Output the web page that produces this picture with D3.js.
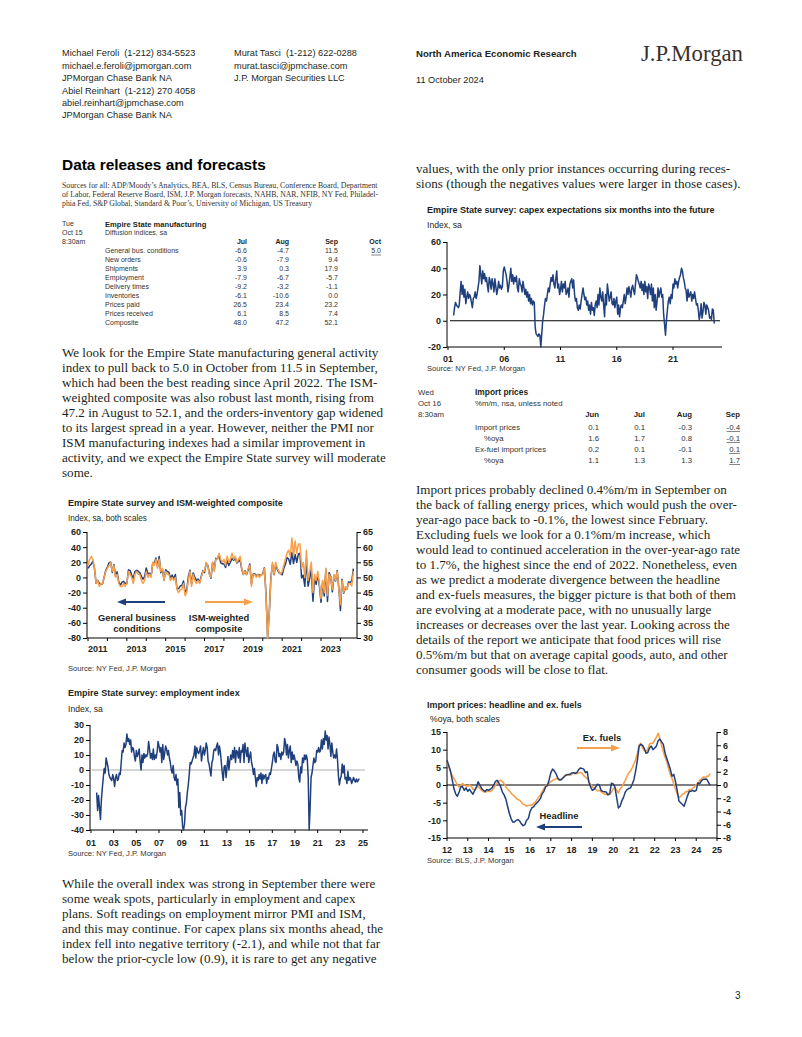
<!DOCTYPE html>
<html><head><meta charset="utf-8">
<script src="https://cdn.jsdelivr.net/npm/d3@7"></script>
<style>body{margin:0;background:#fff}svg{display:block}</style>
</head><body>
<svg id="page" width="802" height="1037"></svg>
<script>
// ---------------- DATA ----------------
const empireTableCols = ["Jul", "Aug", "Sep", "Oct"];
const empireTableRows = ["General bus. conditions","New orders","Shipments","Employment","Delivery times","Inventories","Prices paid","Prices received","Composite"];
const empireTableVals = [
  ["-6.6","-4.7","11.5","5.0"],["-0.6","-7.9","9.4",""],["3.9","0.3","17.9",""],["-7.9","-6.7","-5.7",""],
  ["-9.2","-3.2","-1.1",""],["-6.1","-10.6","0.0",""],["26.5","23.4","23.2",""],["6.1","8.5","7.4",""],["48.0","47.2","52.1",""]];
const importTableCols = ["Jun","Jul","Aug","Sep"];
const importTableRows = ["Import prices","%oya","Ex-fuel import prices","%oya"];
const importTableVals = [["0.1","0.1","-0.3","-0.4"],["1.6","1.7","0.8","-0.1"],["0.2","0.1","-0.1","0.1"],["1.1","1.3","1.3","1.7"]];

// Chart 1: monthly from Jan 2011
const c1Start = 2011;
const generalBusiness = [
 11.9,15.4,17.5,21.7,11.9,-7.8,-3.8,-7.7,-8.8,-8.5,0.6,9.5,
 13.5,19.5,20.2,6.6,17.1,2.3,7.4,-5.9,-10.4,-6.2,-5.2,-8.1,
 -7.8,10.0,9.2,3.1,-1.4,7.8,9.5,8.2,6.3,1.5,-2.2,1.0,
 12.5,4.5,5.6,1.3,19.0,19.3,25.6,14.7,27.5,6.2,10.2,-3.6,
 10.0,7.8,6.9,-1.2,3.1,-2.0,3.9,-14.9,-14.7,-11.4,-10.7,-4.6,
 -19.4,-16.6,0.6,9.6,-9.0,6.0,0.6,-4.2,-2.0,-6.8,1.5,9.0,
 6.5,18.7,16.4,5.2,-1.0,19.8,9.8,25.2,24.4,30.2,19.4,18.0,
 17.7,13.1,22.5,15.8,20.1,25.0,22.6,25.6,19.0,21.1,23.3,10.9,
 3.9,8.8,3.7,10.1,17.8,-8.6,4.3,4.8,2.0,4.0,2.9,3.5,
 4.8,12.9,-21.5,-78.2,-48.5,-0.2,17.2,3.7,17.0,10.5,6.3,4.9,
 3.5,12.1,17.4,26.3,24.3,17.4,33.0,18.3,30.3,19.8,30.9,31.9,
 -0.7,3.1,-11.8,24.6,-11.6,-1.2,11.1,-31.3,-1.5,-9.1,4.5,-11.2,
 -32.9,-5.8,-24.6,10.8,-31.8,6.6,1.1,-19.0,1.9,-4.6,9.1,-14.5,
 -43.7,-2.4,-20.9,-14.3,-15.6,-6.0,-6.6,-4.7,11.5];
const ismComposite = [
 54,56,57,56,53,48,49,47,48,48,50,52,
 53,54,55,52,54,50,51,48,47,47,48,47,
 48,52,51,50,48,51,52,51,51,49,48,49,
 52,50,51,50,55,54,56,53,56,52,53,49,
 52,51,51,49,50,49,50,46,45,46,46,48,
 44,45,49,52,47,51,49,48,49,48,50,52,
 52,55,54,51,50,55,52,56,56,58,56,55,
 56,54,57,55,56,58,56,57,55,56,57,53,
 51,52,51,53,54,47,51,51,50,51,50,51,
 51,53,44,30,38,49,55,51,55,53,52,51,
 52,54,56,58,59,57,63,57,62,58,61,61,
 53,55,50,59,49,52,55,45,51,49,52,48,
 43,49,45,53,44,51,50,46,51,49,52,46,
 41,49,45,47,46,48,48.0,47.2,52.1];
const c1LeftTicks = [60,40,20,0,-20,-40,-60,-80];
const c1RightTicks = [65,60,55,50,45,40,35,30];
const c1XLabels = [2011,2013,2015,2017,2019,2021,2023];

// Chart 2: employment index, monthly from Jul 2001
const empStart = 2001.5;
const employment = [
 -15,-27,-17,-25,-33,-20,
 -12,-5,1,-2,8,5,2,-3,-5,-6,-7,-3,
 -6,-11,-5,-3,-7,-6,-2,-3,5,13,12,18,
 15,17,24,19,21,17,20,12,15,14,9,6,
 13,9,11,14,6,0,10,5,11,8,10,9,
 11,19,14,8,11,7,14,7,10,8,12,19,
 16,12,15,5,17,7,11,16,14,10,13,8,
 5,0,-2,3,-5,-7,-3,-10,-6,-25,-15,-30,
 -27,-38,-40,-36,-25,-22,-15,-10,-3,5,4,6,
 8,10,16,8,15,12,11,13,16,6,11,15,
 10,13,18,15,6,4,0,-4,5,7,13,14,
 13,16,18,10,16,12,5,-2,-7,2,3,-5,
 2,9,0,6,10,7,13,8,15,5,13,12,
 8,15,5,13,12,17,5,18,13,9,15,5,
 9,12,5,2,-3,1,-5,-11,-5,-7,-3,-6,
 -2,-9,-3,-6,-4,-3,-9,-5,-6,-2,-3,1,
 5,10,12,6,5,17,15,9,11,7,12,10,
 12,21,18,10,17,8,13,16,5,12,7,10,
 7,3,6,4,-5,-8,2,-2,8,5,10,7,
 10,7,-5,-40,-25,-5,-2,3,8,5,6,13,
 12,15,12,13,20,14,21,17,26,20,23,14,
 22,17,9,18,12,8,10,8,14,7,-4,-10,
 -6,-4,4,-2,3,-6,-5,-9,-1,-7,-5,-6,
 -9,-7,-5,-7,-8,-6,-7.9,-6.7,-5.7];
const empYTicks = [30,20,10,0,-10,-20,-30,-40];
const empXLabels = ["01","03","05","07","09","11","13","15","17","19","21","23","25"];

// Chart 3: capex expectations, monthly from Jul 2001
const capexStart = 2001.5;
const capex = [
 4,10,14,12,11,10,
 12,22,30,20,27,18,24,13,18,22,17,20,
 18,14,10,17,18,22,17,20,25,30,42,35,
 28,38,32,36,30,33,27,22,33,30,24,32,
 28,22,32,26,20,24,30,25,27,24,26,38,
 41,38,35,30,22,27,33,40,30,35,28,33,
 30,34,25,22,32,28,27,22,30,25,20,24,
 18,22,15,20,13,17,12,15,14,-5,-10,-11,
 -12,-10,-11,-20,-10,0,5,12,17,15,20,25,
 22,28,33,30,35,28,25,32,38,25,28,20,
 24,30,22,28,25,30,20,22,25,18,28,30,
 32,25,31,20,15,17,10,8,12,9,15,20,
 25,20,16,18,12,15,8,12,5,14,8,10,
 4,12,15,10,20,12,25,18,15,22,12,3,
 20,12,28,22,15,18,22,13,12,17,10,15,
 18,5,12,3,10,12,10,15,20,13,18,25,
 20,26,22,18,25,27,23,20,28,35,33,30,
 28,25,30,23,28,20,30,22,26,17,28,25,
 20,28,15,25,10,20,8,15,25,18,22,25,
 18,20,5,-3,-11,0,8,15,18,13,20,17,
 28,25,32,28,30,25,30,33,35,40,38,33,
 30,25,23,15,24,18,20,22,15,20,17,22,
 17,12,13,8,1,5,13,2,7,14,12,5,
 12,10,8,2,3,1,9,8,-2.1];
const capexYTicks = [60,40,20,0,-20];
const capexXLabels = ["01","06","11","16","21"];

// Chart 4: import prices %oya, monthly from Jan 2012
const impStart = 2012;
const headline = [
 7,5.5,4,1.5,-1,-2.5,-3.2,-2,-0.5,-0.5,-1.5,-0.8,
 -1.8,-1.2,-2,-2.6,-1.5,-0.5,0.9,0,-1,-1.5,-1.8,-1.3,
 -1.5,-1.2,-0.8,0,1,1.3,0.5,-0.5,-2,-2.8,-4,-6,
 -8,-9.5,-10.5,-10.5,-10,-9.8,-10.2,-11,-11.5,-11.2,-10,-9.5,
 -7.5,-6.5,-6.2,-5.5,-5,-4.5,-3.8,-2.5,-1.8,-0.5,-0.2,1.5,
 3.5,4.5,4,3.2,2,1.5,1.5,2,2.5,2.8,3,3,
 3.4,3.5,3.2,3.5,4.3,4.8,4.7,4.5,3.5,3.8,0.8,-0.6,
 -1.5,-1.2,-0.5,0.2,0,-1.5,-1.8,-1.9,-2,-2.8,-2.5,0.5,
 0.3,-0.5,-3.5,-6.5,-6,-4.5,-3.5,-2,-1.3,-1,-0.8,0.2,
 1.5,4,7,11,11.5,11.2,10.3,9,9.2,10.5,11,10,
 10.5,11,12.5,13,12.2,11.5,9,7.5,6,4.5,2.5,3,
 1,-1.5,-4.5,-5,-5.5,-6,-4.5,-3,-1.8,-1.8,-1.5,-1.8,
 -1.5,0.6,0.4,1.2,1.6,1.6,1.7,0.8,-0.1];
const exFuels = [
 3.5,2.8,2,1.4,1,0.5,0,-0.3,0,0.2,0,-0.1,
 -0.2,0,-0.2,-0.6,-0.8,-0.5,-0.2,-0.5,-0.8,-1,-1.1,-1,
 -0.9,-1,-0.8,-0.5,0,0.3,0.6,0.7,0.5,0.2,-0.3,-0.6,
 -0.9,-1.2,-1.5,-1.7,-2,-2.2,-2.3,-2.6,-2.9,-3,-3.2,-3.1,
 -3,-3.1,-2.8,-2.6,-2.2,-1.8,-1.5,-1,-0.5,-0.2,0,0.3,
 0.5,0.7,0.8,1,0.9,0.7,0.9,1.1,1.4,1.6,1.5,1.5,
 1.6,1.8,1.9,1.7,1.8,1.9,1.8,1.4,1.2,1,0.5,0.1,
 -0.3,-0.4,-0.7,-0.9,-0.8,-1,-1.2,-1.4,-1.4,-1.3,-1.4,-1.1,
 -0.6,-0.4,-0.8,-1.2,-0.6,-0.3,0.2,0.7,1.3,1.8,2.1,2.6,
 3.2,3.8,4.8,6,6.3,5.6,5.2,5.1,5.4,6.2,6.3,6.3,
 6.8,7.2,7.8,7,6,5,4.2,3.5,2.5,1.6,1,0.2,
 -0.6,-1.3,-1.9,-1.7,-1.4,-1.3,-1,-1,-0.7,-0.7,-0.5,-0.3,
 0.1,0.3,0.7,0.9,1.2,1.1,1.3,1.3,1.7];
const impLeftTicks = [15,10,5,0,-5,-10,-15];
const impRightTicks = [8,6,4,2,0,-2,-4,-6,-8];
const impXLabels = ["12","13","14","15","16","17","18","19","20","21","22","23","24","25"];

// ---------------- DRAWING ----------------
const svg = d3.select('#page');
const SANS = "'Liberation Sans', Arial, sans-serif";
const SERIF = "'Liberation Serif', 'Times New Roman', serif";
const BLUE = "#1f3f7d", ORANGE = "#f7a04b", TXT = "#231f20";

function T(x, y, s, o = {}) {
  const t = svg.append('text').attr('x', x).attr('y', y).attr('dy', '0.35em').text(s)
    .attr('font-family', o.serif ? SERIF : SANS).attr('font-size', o.size || 9)
    .attr('font-weight', o.bold ? 'bold' : 'normal').attr('fill', o.fill || TXT)
    .attr('text-anchor', o.anchor || 'start');
  if (o.fit) { const w = t.node().getComputedTextLength(); t.attr('font-size', (o.size || 9) * o.fit / w); }
  if (o.len) t.attr('textLength', o.len).attr('lengthAdjust', 'spacing');
  return t;
}
function fitSize(s, target, o) {
  const t = svg.append('text').text(s).attr('font-family', o.serif ? SERIF : SANS)
    .attr('font-size', 10).attr('font-weight', o.bold ? 'bold' : 'normal');
  const w = t.node().getComputedTextLength(); t.remove();
  return 10 * target / w;
}
function block(lines, x, y0, lh, size, o = {}) {
  lines.forEach((l, i) => T(x, y0 + i * lh, l, Object.assign({}, o, { size })));
}

// Header
const hs = 9.2, NB = "\u00a0\u00a0";
T(62, 53, "Michael Feroli" + NB + "(1-212) 834-5523", { size: hs });
T(62, 66, "michael.e.feroli@jpmorgan.com", { size: hs });
T(62, 78, "JPMorgan Chase Bank NA", { size: hs });
T(62, 91, "Abiel Reinhart" + NB + "(1-212) 270 4058", { size: hs });
T(62, 103, "abiel.reinhart@jpmchase.com", { size: hs });
T(62, 115, "JPMorgan Chase Bank NA", { size: hs });
T(234, 53, "Murat Tasci" + NB + "(1-212) 622-0288", { size: hs });
T(234, 66, "murat.tasci@jpmchase.com", { size: hs });
T(234, 78, "J.P. Morgan Securities LLC", { size: hs });
T(416, 54, "North America Economic Research", { size: 9.5, bold: true, fit: 161 });
T(416, 80, "11 October 2024", { size: 9.2 });
T(641, 53, "J.P.Morgan", { serif: true, size: 24, fill: "#3d2f2a", fit: 102 });

// Title & sources
T(62, 165, "Data releases and forecasts", { size: 18, bold: true, fill: "#000", fit: 204 });
const srcSize = fitSize("Sources for all: ADP/Moody’s Analytics, BEA, BLS, Census Bureau, Conference Board, Department", 316, { serif: true });
T(62, 185, "Sources for all: ADP/Moody’s Analytics, BEA, BLS, Census Bureau, Conference Board, Department", { serif: true, size: srcSize, fill: "#333" });
T(62, 194, "of Labor, Federal Reserve Board, ISM, J.P. Morgan forecasts, NAHB, NAR, NFIB, NY Fed, Philadel-", { serif: true, size: srcSize, fill: "#333", len: 316 });
T(62, 203, "phia Fed, S&P Global, Standard & Poor’s, University of Michigan, US Treasury", { serif: true, size: srcSize, fill: "#333" });

// Empire table
const ts = 7;
T(62, 224, "Tue", { size: ts, fill: "#333" });
T(62, 233, "Oct 15", { size: ts, fill: "#333" });
T(62, 242, "8:30am", { size: ts, fill: "#333" });
T(105, 224, "Empire State manufacturing", { size: 7.6, bold: true });
T(105, 233, "Diffusion indices, sa", { size: ts, fill: "#333" });
const eColX = [247, 289, 338, 381];
empireTableCols.forEach((c, j) => T(eColX[j], 242, c, { size: ts, bold: true, anchor: 'end' }));
empireTableRows.forEach((r, i) => {
  const y = 251 + i * 8.9;
  T(105, y, r, { size: ts, fill: "#333" });
  empireTableVals[i].forEach((v, j) => {
    if (!v) return;
    const t = T(eColX[j], y, v, { size: ts, fill: "#333", anchor: 'end' });
    if (j === 3) { const w = t.node().getComputedTextLength();
      svg.append('line').attr('x1', eColX[j] - w).attr('x2', eColX[j]).attr('y1', y + 4).attr('y2', y + 4).attr('stroke', '#333').attr('stroke-width', 0.6); }
  });
});

// Paragraphs
const p1 = ["We look for the Empire State manufacturing general activity",
"index to pull back to 5.0 in October from 11.5 in September,",
"which had been the best reading since April 2022. The ISM-",
"weighted composite was also robust last month, rising from",
"47.2 in August to 52.1, and the orders-inventory gap widened",
"to its largest spread in a year. However, neither the PMI nor",
"ISM manufacturing indexes had a similar improvement in",
"activity, and we expect the Empire State survey will moderate",
"some."];
const pSize = fitSize(p1[1], 316, { serif: true });
block(p1, 62, 352, 15, pSize, { serif: true });
const p2 = ["While the overall index was strong in September there were",
"some weak spots, particularly in employment and capex",
"plans. Soft readings on employment mirror PMI and ISM,",
"and this may continue. For capex plans six months ahead, the",
"index fell into negative territory (-2.1), and while not that far",
"below the prior-cycle low (0.9), it is rare to get any negative"];
block(p2, 62, 883, 15, pSize, { serif: true });
const p3a = ["values, with the only prior instances occurring during reces-",
"sions (though the negatives values were larger in those cases)."];
block(p3a, 416, 168, 15, pSize, { serif: true });
const p3 = ["Import prices probably declined 0.4%m/m in September on",
"the back of falling energy prices, which would push the over-",
"year-ago pace back to -0.1%, the lowest since February.",
"Excluding fuels we look for a 0.1%m/m increase, which",
"would lead to continued acceleration in the over-year-ago rate",
"to 1.7%, the highest since the end of 2022. Nonetheless, even",
"as we predict a moderate divergence between the headline",
"and ex-fuels measures, the bigger picture is that both of them",
"are evolving at a moderate pace, with no unusually large",
"increases or decreases over the last year. Looking across the",
"details of the report we anticipate that food prices will rise",
"0.5%m/m but that on average capital goods, auto, and other",
"consumer goods will be close to flat."];
block(p3, 416, 489, 15, pSize, { serif: true });

// Import table
const its = 7.8;
T(418, 392, "Wed", { size: its, fill: "#333" });
T(418, 403, "Oct 16", { size: its, fill: "#333" });
T(418, 414, "8:30am", { size: its, fill: "#333" });
T(475, 392, "Import prices", { size: 8.4, bold: true });
T(475, 403, "%m/m, nsa, unless noted", { size: its, fill: "#333" });
const iColX = [599, 645, 692, 740];
importTableCols.forEach((c, j) => T(iColX[j], 414, c, { size: its, bold: true, anchor: 'end' }));
importTableRows.forEach((r, i) => {
  const y = 427 + i * 11;
  T(r === "%oya" ? 484 : 475, y, r, { size: its, fill: "#333" });
  importTableVals[i].forEach((v, j) => {
    const t = T(iColX[j], y, v, { size: its, fill: "#333", anchor: 'end' });
    if (j === 3) { const w = t.node().getComputedTextLength();
      svg.append('line').attr('x1', iColX[j] - w).attr('x2', iColX[j]).attr('y1', y + 4.5).attr('y2', y + 4.5).attr('stroke', '#333').attr('stroke-width', 0.6); }
  });
});

// Chart helpers
const tickFont = 9;
function yAxis(scale, x, ticks, side) {
  const g = svg.append('g').attr('transform', `translate(${x},0)`);
  const ax = (side === 'left' ? d3.axisLeft(scale) : d3.axisRight(scale))
    .tickValues(ticks).tickFormat(d => String(d)).tickSize(4).tickPadding(2);
  g.call(ax);
  g.selectAll('text').attr('font-family', SANS).attr('font-size', tickFont).attr('font-weight', 'bold').attr('fill', TXT);
  g.selectAll('line,path').attr('stroke', '#000');
  g.select('.domain').attr('d', `M0,${scale.range()[0]}V${scale.range()[1]}`);
  return g;
}
function xAxisLine(x0, x1, y, tickXs) {
  svg.append('line').attr('x1', x0).attr('x2', x1).attr('y1', y).attr('y2', y).attr('stroke', '#000');
  tickXs.forEach(tx => svg.append('line').attr('x1', tx).attr('x2', tx).attr('y1', y).attr('y2', y + 3).attr('stroke', '#000'));
}
function series(vals, start, xs, ys, color, w) {
  const line = d3.line().x((d, i) => xs(start + i / 12)).y(d => ys(d));
  svg.append('path').attr('d', line(vals)).attr('fill', 'none').attr('stroke', color).attr('stroke-width', w || 1.4).attr('stroke-linejoin', 'round');
}
function arrow(x1, x2, y, color) {
  const dir = Math.sign(x2 - x1);
  svg.append('line').attr('x1', x1).attr('x2', x2 - dir * 7).attr('y1', y).attr('y2', y).attr('stroke', color).attr('stroke-width', 2);
  svg.append('path').attr('d', `M${x2},${y}L${x2 - dir * 9},${y - 3.5}L${x2 - dir * 9},${y + 3.5}Z`).attr('fill', color);
}
const titleSize = 9, subSize = 8.6, srcSz = 7.6;

// ---- Chart 1 ----
T(68, 503, "Empire State survey and ISM-weighted composite", { size: titleSize, bold: true, fit: 215 });
T(68, 518, "Index, sa, both scales", { size: subSize, fit: 79 });
const c1y = d3.scaleLinear().domain([-80, 60]).range([638, 532]);
const c1yR = d3.scaleLinear().domain([30, 65]).range([638, 532]);
const c1x = d3.scaleLinear().domain([2011, 2024.75]).range([88, 355]);
yAxis(c1y, 87, c1LeftTicks, 'left');
yAxis(c1yR, 357, c1RightTicks, 'right');
xAxisLine(87, 357, 638, d3.range(2011, 2025).map(y => c1x(y)));
c1XLabels.forEach(y => T(c1x(y + 0.5), 649, String(y), { size: tickFont, bold: true, anchor: 'middle' }));
series(generalBusiness, c1Start, c1x, c1y, BLUE, 1.5);
series(ismComposite, c1Start, c1x, c1yR, ORANGE, 1.5);
arrow(165, 117, 602, BLUE);
arrow(205, 253, 602, ORANGE);
T(137, 618, "General business", { size: 9.4, bold: true, anchor: 'middle' });
T(137, 629, "conditions", { size: 9.4, bold: true, anchor: 'middle' });
T(219, 618, "ISM-weighted", { size: 9.4, bold: true, anchor: 'middle' });
T(219, 629, "composite", { size: 9.4, bold: true, anchor: 'middle' });
T(68, 668, "Source: NY Fed, J.P. Morgan", { size: srcSz, fill: "#333" });

// ---- Chart 2 ----
T(68, 693, "Empire State survey: employment index", { size: titleSize, bold: true, fit: 172 });
T(68, 709, "Index, sa", { size: subSize });
const c2y = d3.scaleLinear().domain([-40, 30]).range([830, 725]);
const c2x = d3.scaleLinear().domain([2001, 2025]).range([91, 363]);
svg.append('line').attr('x1', 92).attr('x2', 365).attr('y1', c2y(0)).attr('y2', c2y(0)).attr('stroke', '#c8c8c8').attr('stroke-width', 1.5);
yAxis(c2y, 90, empYTicks, 'left');
xAxisLine(90, 368, 830, empXLabels.map(l => c2x(2000 + +l)));
empXLabels.forEach(l => T(c2x(2000 + +l), 843, l, { size: tickFont, bold: true, anchor: 'middle' }));
series(employment, empStart, c2x, c2y, BLUE, 1.5);
T(68, 853, "Source: NY Fed, J.P. Morgan", { size: srcSz, fill: "#333" });

// ---- Chart 3 ----
T(427, 210, "Empire State survey: capex expectations six months into the future", { size: titleSize, bold: true, fit: 288 });
T(427, 225, "Index, sa", { size: subSize });
const c3y = d3.scaleLinear().domain([-20, 60]).range([347, 242]);
const c3x = d3.scaleLinear().domain([2001, 2021]).range([448, 673]);
yAxis(c3y, 447, capexYTicks, 'left');
xAxisLine(447, 722, 347, capexXLabels.map(l => c3x(2000 + +l)));
svg.append('line').attr('x1', 450).attr('x2', 720).attr('y1', c3y(0)).attr('y2', c3y(0)).attr('stroke', '#000').attr('stroke-width', 1.2);
capexXLabels.forEach(l => T(c3x(2000 + +l), 359, l, { size: tickFont, bold: true, anchor: 'middle' }));
series(capex, capexStart, c3x, c3y, BLUE, 1.5);
T(427, 368, "Source: NY Fed, J.P. Morgan", { size: srcSz, fill: "#333" });

// ---- Chart 4 ----
T(427, 705, "Import prices: headline and ex. fuels", { size: titleSize, bold: true, fit: 155 });
T(430, 719, "%oya, both scales", { size: subSize });
const c4y = d3.scaleLinear().domain([-15, 15]).range([838, 732]);
const c4yR = d3.scaleLinear().domain([-8, 8]).range([838, 732]);
const c4x = d3.scaleLinear().domain([2012, 2025]).range([447, 717]);
yAxis(c4y, 447, impLeftTicks, 'left');
yAxis(c4yR, 717, impRightTicks, 'right');
xAxisLine(447, 717, 838, impXLabels.map(l => c4x(2000 + +l)));
svg.append('line').attr('x1', 447).attr('x2', 717).attr('y1', c4y(0)).attr('y2', c4y(0)).attr('stroke', '#000').attr('stroke-width', 1.2);
impXLabels.forEach(l => T(c4x(2000 + +l), 850, l, { size: tickFont, bold: true, anchor: 'middle' }));
series(exFuels, impStart, c4x, c4yR, ORANGE, 1.6);
series(headline, impStart, c4x, c4y, BLUE, 1.5);
arrow(577, 620, 748, ORANGE);
arrow(582, 536, 827, BLUE);
T(602, 738, "Ex. fuels", { size: 9.4, bold: true, anchor: 'middle' });
T(559, 816, "Headline", { size: 9.4, bold: true, anchor: 'middle' });
T(427, 860, "Source: BLS, J.P. Morgan", { size: srcSz, fill: "#333" });

// page number
T(735, 995, "3", { size: 10 });
</script>
</body></html>
